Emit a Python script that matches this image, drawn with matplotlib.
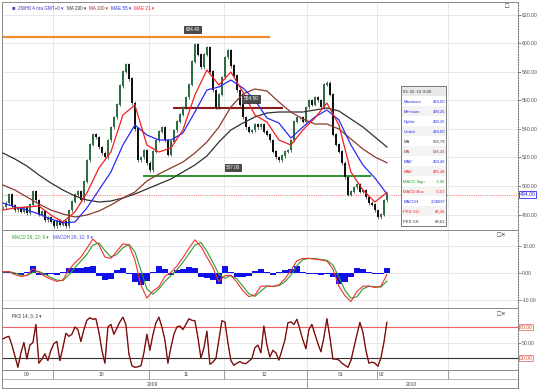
import numpy as np
import matplotlib
matplotlib.use('Agg')
import matplotlib.pyplot as plt
from matplotlib.patches import Rectangle
import matplotlib.transforms as mtransforms

plt.rcParams['font.family'] = ['Liberation Sans', 'DejaVu Sans']

close = [485, 488, 494, 486, 483, 485, 482, 485, 481, 487, 496, 490, 480, 482, 476, 478,
         475, 472, 476, 473, 475, 472, 483, 489, 494, 496, 490, 503, 518, 529, 536, 534,
         527, 523, 520, 532, 541, 548, 557, 570, 580, 585, 575, 558, 540, 518, 520, 525,
         516, 511, 524, 532, 538, 541, 532, 522, 531, 539, 545, 550, 555, 562, 571, 587,
         599, 592, 583, 592, 597, 580, 567, 555, 564, 576, 590, 595, 584, 577, 567, 557,
         548, 541, 538, 539, 543, 541, 543, 538, 536, 532, 524, 520, 518, 521, 524, 525,
         532, 545, 548, 548, 545, 555, 560, 557, 562, 560, 555, 571, 572, 564, 536, 529,
         524, 516, 506, 494, 496, 499, 501, 496, 497, 492, 488, 487, 483, 478, 480, 490,
         494]

# moving averages, every 4th bar
ma200 = [523.1, 518.9, 514.0, 507.7, 502.1, 497.2, 493.0, 490.2, 488.8, 489.5, 491.6,
         494.4, 497.9, 501.4, 504.9, 509.8, 514.7, 521.0, 530.8, 539.2, 544.1, 548.3,
         551.1, 551.8, 551.8, 551.8, 553.2, 554.6, 552.5, 546.9, 541.3, 534.3, 527.3]
ma100 = [500.7, 497.2, 492.3, 487.4, 483.2, 480.4, 478.3, 479.7, 482.5, 486.7, 491.6,
         495.8, 503.5, 508.4, 512.6, 516.8, 523.1, 530.8, 541.3, 555.3, 564.4, 567.9,
         566.5, 558.8, 551.8, 546.9, 543.4, 543.4, 539.9, 532.9, 525.9, 520.3, 516.3]
mae55 = [488.1, 485.3, 483.2, 480.4, 476.9, 474.1, 474.8, 484.6, 497.2, 509.8, 528.7,
         542.7, 535.7, 532.2, 532.2, 537.1, 551.8, 567.2, 569.3, 574.2, 568.6, 560.2,
         547.6, 544.1, 533.6, 541.3, 548.3, 553.2, 546.2, 528.7, 514.7, 505.6, 494.5]
mae21 = [483.2, 484.6, 485.3, 486.0, 479.7, 474.8, 481.8, 495.1, 512.6, 523.8, 549.7,
         556.7, 528.7, 523.8, 526.6, 539.2, 563.7, 581.2, 570.7, 579.8, 565.8, 549.7,
         544.8, 532.2, 528.7, 539.2, 547.6, 558.1, 542.7, 509.8, 497.2, 488.8, 495.5]

# MACD 26;12;9, every 2nd bar
macd_base = [0.5, 0.5, -0.6, -1.3, -0.9, 1.6, 0.3, -1.3, -2.3, -3.2, -2.6, 1.2, 3.8,
             6.0, 9.3, 12.8, 10.6, 6.0, 5.5, 8.2, 11.0, 10.5, 5.0, -4.5, -9.5, -6.8,
             -5.2, -1.3, 0.2, 2.6, 5.8, 9.3, 12.5, 10.0, 6.0, 2.0, -3.2, -1.0, -0.9,
             -3.5, -6.7, -8.9, -8.3, -5.0, -4.9, -5.1, -4.5, -2.2, 1.0, 4.6, 5.5, 5.5,
             5.2, 4.9, 4.5, 1.5, -5.0, -8.5, -10.8, -7.0, -5.0, -4.9, -5.5, -5.0, -0.6]
macd_sign = [0.3, 0.5, 0.0, -0.8, -1.0, 0.2, 0.6, -0.5, -1.7, -2.7, -2.9, -0.7, 2.0,
             4.5, 7.0, 10.5, 11.3, 8.5, 6.0, 7.0, 9.5, 10.8, 8.0, 1.0, -6.0, -8.0,
             -6.0, -3.2, -1.0, 1.2, 4.0, 7.2, 10.5, 11.5, 8.2, 4.0, -0.5, -2.0, -1.0,
             -2.2, -5.0, -7.8, -8.8, -6.8, -5.0, -5.0, -4.8, -3.3, -0.8, 2.8, 5.0, 5.5,
             5.4, 5.1, 4.8, 3.0, -1.5, -6.5, -9.5, -9.0, -6.0, -5.0, -5.2, -5.3, -3.0]
macd_hist = [0.4, 0.5, -0.4, -0.6, 0.2, 2.8, -0.8, -0.6, -0.5, -0.6, 0.3, 1.8, 2.0,
             1.8, 2.3, 2.5, -1.0, -2.5, -2.2, 1.2, 2.0, -0.5, -3.5, -4.5, -3.0, 0.5,
             2.8, 1.5, -0.8, 1.2, 1.5, 2.3, 2.0, -1.5, -2.0, -2.5, -4.0, 2.8, 0.2,
             -1.5, -1.5, -1.2, 0.8, 1.5, 0.5, -0.8, 0.3, 1.0, 1.5, 2.7, 0.5, -0.4,
             -0.2, -0.8, -0.5, -1.5, -4.0, -3.5, -1.5, 1.8, 1.5, 0.2, -0.5, -0.2, 2.0]

# PKS 14;3;3, every bar
pks = [57, 60, 62, 45, 24, 2, 30, 50, 18, 45, 50, 85, 10, 18, 28, 15, 35, 48, 52, 15,
       40, 68, 62, 66, 80, 75, 52, 75, 93, 98, 95, 96, 70, 35, 10, 80, 85, 66, 78, 90,
       99, 85, 28, 5, 2, 3, 5, 30, 66, 35, 65, 88, 99, 80, 55, 10, 40, 66, 80, 82,
       75, 85, 96, 93, 92, 60, 20, 39, 72, 8, 12, 19, 55, 92, 90, 50, 15, 6, 10, 13,
       10, 9, 14, 19, 40, 45, 30, 82, 45, 22, 35, 30, 16, 35, 55, 88, 90, 85, 95, 75,
       55, 38, 75, 85, 66, 48, 32, 60, 96, 60, 18, 18, 16, 10, 6, 2, 15, 40, 65, 89,
       70, 35, 10, 12, 10, 4, 20, 50, 89]

price_ticks = [480, 500, 520, 540, 560, 580, 600, 620]
macd_ticks = [-10, 0, 10]
month_labels = ['09', '10', '11', '12', '01', '02']
month_label_pos = [8.0, 32.7, 61.0, 87.3, 112.7, 126.3]
month_edges = [16.7, 48.7, 73.7, 101.3, 124.7, 148.3]
year_labels = ['2009', '2010']
year_label_pos = [50.0, 136.0]

info_names = ['03. 02. 10. 8:00', 'Maximum', 'Minimum', 'Nyitás', 'Utolsó', 'MA', 'MA',
              'MAE', 'MAE', 'MACD Sign', 'MACD Bas', 'MACDH', 'PKS %D', 'PKS %K']
info_values = ['', '494,00', '490,25', '490,25', '494,00', '526,79', '516,33', '494,46',
               '495,48', '-2,96', '-0,57', '2,38697', '83,36', '89,61']

# ---- style ----
BLUE = '#2b2bf0'
RED = '#f02020'
BROWN = '#8a3b2b'
DARK = '#303030'
GREEN = '#1f9a1f'
GRID = '#e4e4e4'
TICK_FS = 3.7
info_colors = [DARK, BLUE, BLUE, BLUE, BLUE, DARK, BROWN, BLUE, RED, GREEN, RED, BLUE,
               RED, DARK]

W, H = 537, 390
fig = plt.figure(figsize=(W / 100, H / 100), dpi=100)
fig.patch.set_facecolor('white')


def panel(top, bottom):
    ax = fig.add_axes([2 / W, 1 - bottom / H, 516 / W, (bottom - top) / H])
    ax.set_xlim(-0.3, 171.7)
    ax.yaxis.tick_right()
    ax.tick_params(axis='y', labelsize=TICK_FS, length=1.8, width=0.5, pad=1.2,
                   colors='#555555')
    ax.tick_params(axis='x', bottom=False, labelbottom=False)
    for s in ['left', 'top', 'bottom']:
        ax.spines[s].set_color('#8a8a8a')
        ax.spines[s].set_linewidth(0.7)
    ax.spines['right'].set_linestyle(':')
    ax.spines['right'].set_color('#666666')
    ax.spines['right'].set_linewidth(0.7)
    for e in month_edges:
        ax.axvline(e, color=GRID, lw=0.6, zorder=0)
    return ax


def ftext(x, y, s, **kw):
    fig.text(x / W, 1 - y / H, s, **kw)


n = len(close)
bars = np.arange(n)
close_a = np.array(close, dtype=float)
opens = np.r_[close_a[0], close_a[:-1]]
wick = 1.2
highs = np.maximum(opens, close_a) + wick
lows = np.minimum(opens, close_a) - wick
up = close_a >= opens
ma_x = bars[::4]
macd_x = bars[::2]

# ---- main price panel ----
ax = panel(2, 230)
ax.set_ylim(469.2, 628.8)
ax.set_yticks(price_ticks)
ax.set_yticklabels(['%.2f' % v for v in price_ticks])
for v in price_ticks:
    ax.axhline(v, color=GRID, lw=0.6, zorder=0)

ax.axhline(494, color='#ff8a8a', lw=0.8, ls=(0, (1, 1)), zorder=1)
ax.hlines(604.4, -0.3, 89, color='#f28a2e', lw=1.6, zorder=2)
ax.hlines(554.5, 56.7, 93.5, color='#8b1a1a', lw=1.5, zorder=2)
ax.hlines(507.0, 46.7, 122.7, color='#1f8a1f', lw=1.3, zorder=2)

ax.vlines(bars, lows, highs, color='#1a1a1a', lw=0.45, zorder=3)
ax.bar(bars, np.abs(close_a - opens) + 0.4, bottom=np.minimum(opens, close_a),
       width=0.5, color=np.where(up, '#2d6e45', '#111111'), zorder=4)

ax.plot(ma_x, ma200, color=DARK, lw=0.9, zorder=5)
ax.plot(ma_x, ma100, color=BROWN, lw=0.9, zorder=5)
ax.plot(ma_x, mae55, color=BLUE, lw=0.9, zorder=5)
ax.plot(ma_x, mae21, color=RED, lw=0.9, zorder=5)

lbl = dict(fontsize=3.4, color='white', ha='center', va='center', zorder=8,
           bbox=dict(boxstyle='square,pad=0.25', fc='#4a4a4a', ec='#222222', lw=0.5))
ax.text(63.3, 609.5, '604.40', **lbl)
ax.text(82.7, 561.0, '554.50', **lbl)
ax.text(76.7, 513.0, '507.00', **lbl)

trans = mtransforms.blended_transform_factory(ax.transAxes, ax.transData)
ax.text(1.003, 494, '494.00', transform=trans, fontsize=TICK_FS, color=BLUE,
        va='center', ha='left',
        bbox=dict(boxstyle='square,pad=0.15', fc='white', ec=BLUE, lw=0.6))

# legend row
ftext(12, 8, '■', fontsize=4.2, color='#4a4a9a', va='center')
ftext(17.5, 8, 'ZWH0 4 óra GMT+0 ▾', fontsize=3.3, color='#3030c0', va='center')
ftext(67, 8, 'MA 200 ▾', fontsize=3.3, color=DARK, va='center')
ftext(89, 8, 'MA 100 ▾', fontsize=3.3, color=BROWN, va='center')
ftext(111, 8, 'MAE 55 ▾', fontsize=3.3, color=BLUE, va='center')
ftext(134, 8, 'MAE 21 ▾', fontsize=3.3, color=RED, va='center')
ftext(505, 6, '□', fontsize=5, color='#333333', va='center')

# ---- MACD panel ----
ax2 = panel(230, 308)
ax2.set_ylim(-13.2, 16.2)
ax2.set_yticks(macd_ticks)
ax2.set_yticklabels(['%.2f' % v for v in macd_ticks])
for v in macd_ticks:
    ax2.axhline(v, color=GRID, lw=0.6, zorder=0)
ax2.bar(macd_x, macd_hist, width=2.0, color='#1010e8', zorder=2)
ax2.plot(macd_x, macd_sign, color='#2e9a2e', lw=0.8, zorder=3)
ax2.plot(macd_x, macd_base, color='#f03030', lw=0.8, zorder=3)
ftext(12, 237, 'MACD 26; 12; 9 ▾', fontsize=3.3, color='#2e9a2e', va='center')
ftext(53, 237, 'MACDH 26; 12; 9 ▾', fontsize=3.3, color='#4040e0', va='center')
ftext(497, 236, '□×', fontsize=5, color='#333333', va='center')

# ---- PKS panel ----
ax3 = panel(308, 370)
ax3.set_ylim(-3.2, 116.8)
ax3.set_yticks([20, 50, 80])
ax3.set_yticklabels(['', '50.00', ''])
ax3.axhline(50, color=GRID, lw=0.6, zorder=0)
ax3.axhline(80, color='#f06060', lw=0.8, zorder=1)
ax3.axhline(20, color='#333333', lw=0.8, zorder=1)
ax3.plot(bars, pks, color='#c02020', lw=1.0, zorder=3)
ax3.plot(bars, pks, color='#2a1010', lw=0.4, zorder=4)
trans3 = mtransforms.blended_transform_factory(ax3.transAxes, ax3.transData)
for v in [80, 20]:
    ax3.text(1.003, v, '%.2f' % v, transform=trans3, fontsize=TICK_FS, color='#e05030',
             va='center', ha='left',
             bbox=dict(boxstyle='square,pad=0.15', fc='white', ec='#f07070', lw=0.6))
ftext(12, 316, 'PKS 14; 3; 3 ▾', fontsize=3.3, color=DARK, va='center')
ftext(497, 315, '□×', fontsize=5, color='#333333', va='center')

# ---- date axis ----
axd = fig.add_axes([2 / W, 1 - 388 / H, 516 / W, 18 / H])
axd.set_xlim(-0.3, 171.7)
axd.set_ylim(0, 1)
axd.set_xticks([])
axd.set_yticks([])
for s in axd.spines.values():
    s.set_color('#8a8a8a')
    s.set_linewidth(0.7)
axd.axhspan(0.42, 0.52, color='#b8b8b8', lw=0)
axd.vlines(month_edges, 0.52, 1, color='#8a8a8a', lw=0.6)
axd.vlines(month_edges[3], 0, 0.42, color='#8a8a8a', lw=0.6)
for p, t in zip(month_label_pos, month_labels):
    axd.text(p, 0.76, t, fontsize=3.6, ha='center', va='center', color='#444444')
for p, t in zip(year_label_pos, year_labels):
    axd.text(p, 0.2, t, fontsize=3.6, ha='center', va='center', color='#444444')
fig.add_artist(plt.Line2D([518 / W, 518 / W], [1 - 388 / H, 1 - 370 / H],
                          color='#666666', lw=0.7, ls=':'))

# ---- info box ----
axi = fig.add_axes([401 / W, 1 - 226 / H, 45 / W, 140 / H])
axi.set_xlim(0, 1)
axi.set_ylim(len(info_names), 0)
axi.set_xticks([])
axi.set_yticks([])
for s in axi.spines.values():
    s.set_color('#777777')
    s.set_linewidth(0.7)
for i, (name, val, col) in enumerate(zip(info_names, info_values, info_colors)):
    fc = '#e8e8e8' if i == 0 else ('#f3f3f3' if i % 2 == 0 else 'white')
    axi.add_patch(Rectangle((0, i), 1, 1, fc=fc, ec='none'))
    axi.text(0.05, i + 0.55, name, fontsize=3.0, color=col, va='center')
    axi.text(0.98 if i else 0.05, i + 0.55, val, fontsize=3.0, color=col, va='center',
             ha='right' if i else 'left')

fig.savefig('out.png', dpi=100)
